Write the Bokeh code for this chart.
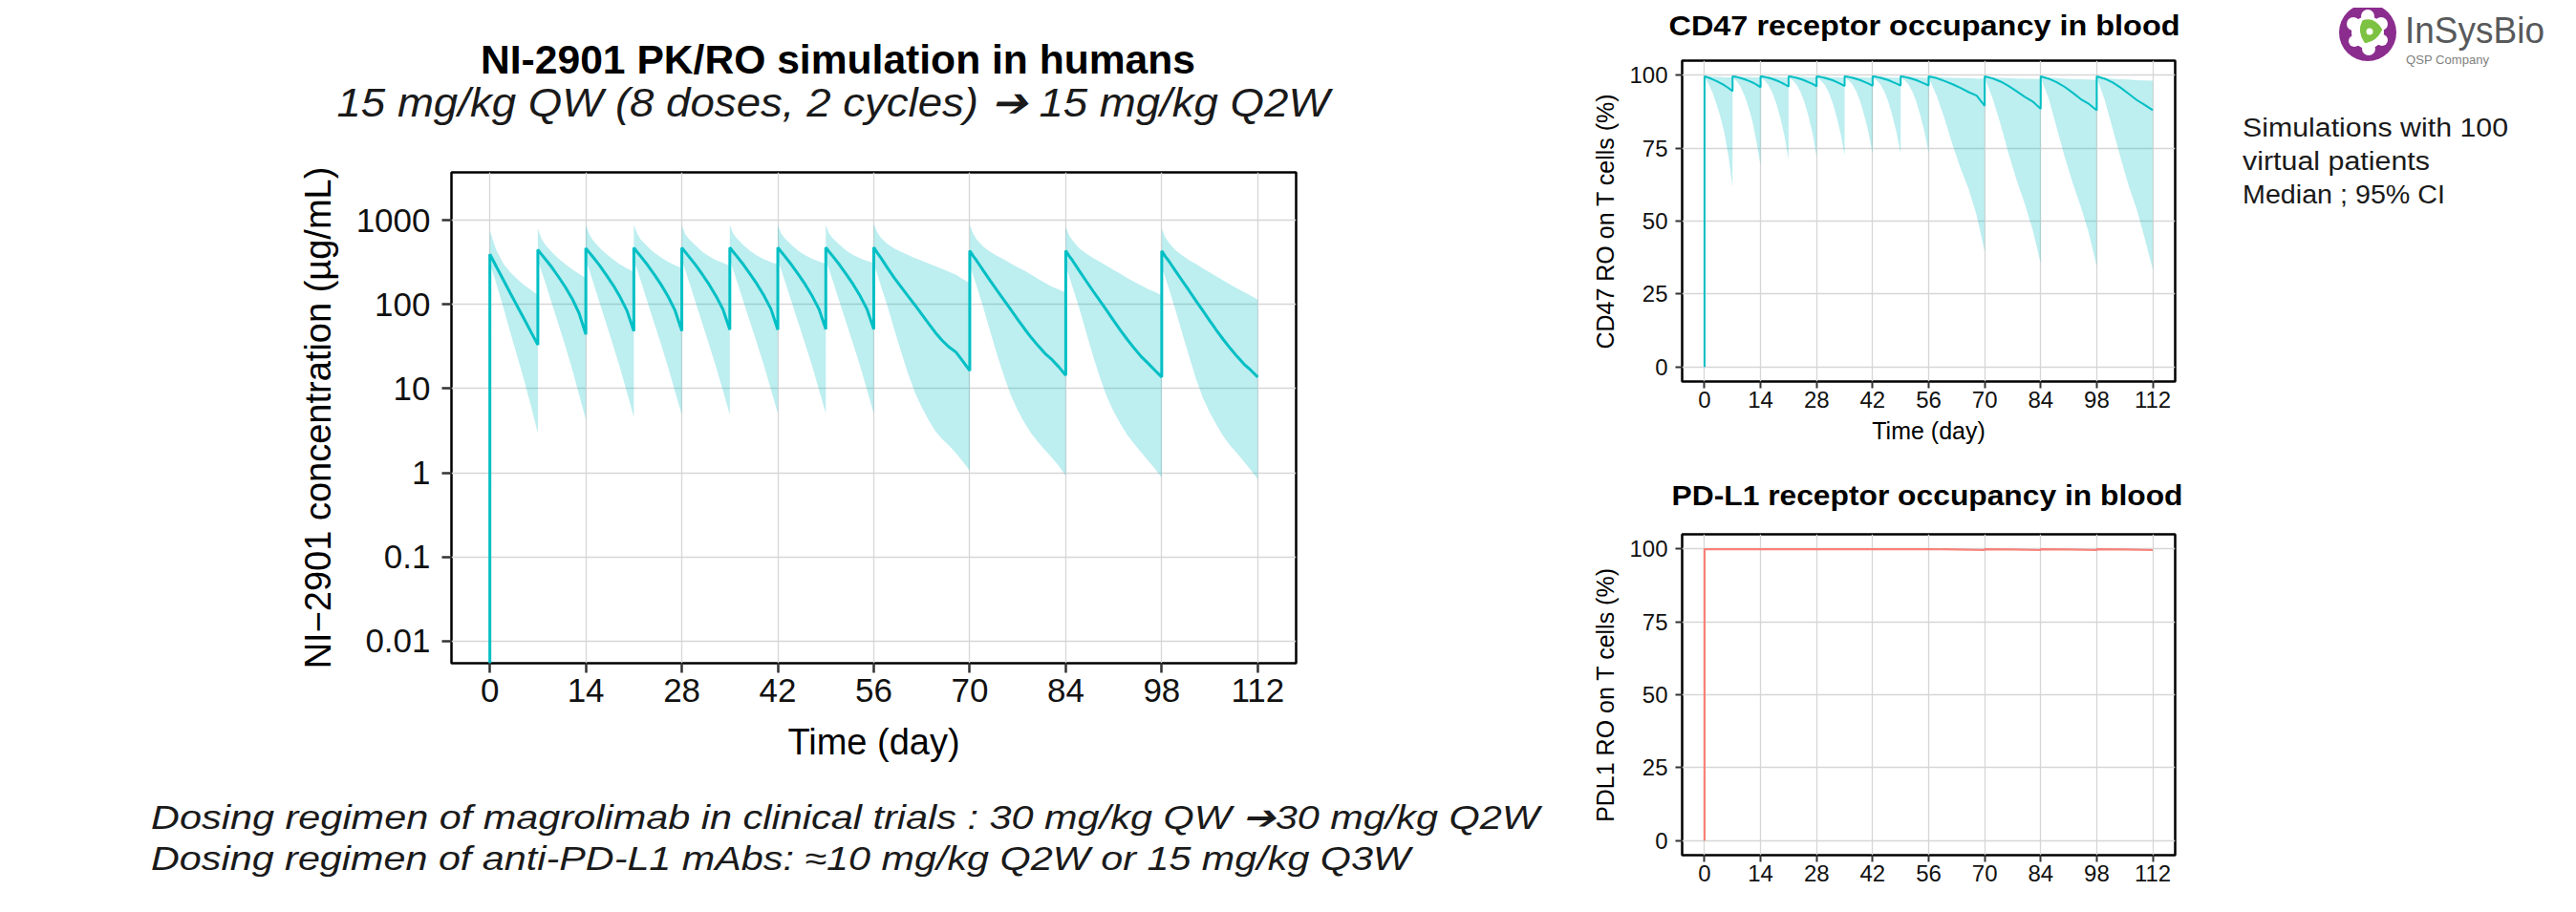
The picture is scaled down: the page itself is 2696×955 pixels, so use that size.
from bokeh.plotting import figure
from bokeh.layouts import row, column
from bokeh.models import Div, FixedTicker, CustomJSTickFormatter, Range1d, Label
from bokeh.embed import file_html
from bokeh.resources import INLINE

# ---------------- data ----------------
day_ticks = [0, 14, 28, 42, 56, 70, 84, 98, 112]
conc_ticks = [0.01, 0.1, 1, 10, 100, 1000]
ro_ticks = [0, 25, 50, 75, 100]

# NI-2901 serum concentration (ug/mL): median and 95% CI
pk_day = [0,
          0, 0.5, 1, 2, 3, 4, 5, 6, 7,
          7, 7.5, 8, 9, 10, 11, 12, 13, 14,
          14, 14.5, 15, 16, 17, 18, 19, 20, 21,
          21, 21.5, 22, 23, 24, 25, 26, 27, 28,
          28, 28.5, 29, 30, 31, 32, 33, 34, 35,
          35, 35.5, 36, 37, 38, 39, 40, 41, 42,
          42, 42.5, 43, 44, 45, 46, 47, 48, 49,
          49, 49.5, 50, 51, 52, 53, 54, 55, 56,
          56, 56.5, 57, 58, 59, 60, 61, 62, 63, 64, 65, 66, 67, 68, 69, 70,
          70, 70.5, 71, 72, 73, 74, 75, 76, 77, 78, 79, 80, 81, 82, 83, 84,
          84, 84.5, 85, 86, 87, 88, 89, 90, 91, 92, 93, 94, 95, 96, 97, 98,
          98, 98.5, 99, 100, 101, 102, 103, 104, 105, 106, 107, 108, 109, 110, 111, 112]
pk_median = [0.001,
             394, 330, 275, 193, 135, 95, 67, 47, 33,
             445, 395, 352, 278, 213, 161, 117, 79, 44,
             465, 413, 368, 290, 222, 168, 122, 84, 48,
             470, 417, 372, 293, 225, 170, 124, 85, 48.5,
             470, 418, 372, 294, 226, 171, 125, 87, 50,
             472, 420, 374, 295, 227, 172, 126, 88, 50,
             472, 420, 374, 295, 227, 172, 126, 88, 50.5,
             472, 420, 374, 295, 227, 172, 126, 88, 50.5,
             474, 410, 360, 270, 205, 160, 125, 98, 76, 59, 46, 37, 31, 27, 21, 16.3,
             433, 375, 330, 250, 190, 145, 112, 86, 66, 51, 40, 32, 26, 22, 18, 14.4,
             433, 375, 330, 248, 188, 143, 110, 84, 64, 49, 38, 30, 24, 20, 16.5, 13.7,
             430, 372, 330, 250, 190, 145, 110, 84, 64, 49, 38, 30, 24, 19.5, 16.5, 13.7]
pk_upper = [0.001,
            757, 560, 430, 300, 240, 200, 170, 148, 129,
            792, 610, 520, 420, 350, 300, 260, 230, 205,
            870, 680, 580, 470, 395, 340, 298, 268, 243,
            880, 690, 590, 485, 410, 360, 320, 292, 270,
            860, 680, 600, 500, 420, 370, 335, 310, 288,
            877, 690, 610, 505, 428, 378, 343, 318, 297,
            870, 690, 610, 508, 432, 382, 348, 323, 303,
            870, 690, 610, 510, 435, 386, 352, 328, 310,
            900, 720, 620, 520, 460, 420, 385, 355, 330, 305, 283, 262, 243, 225, 200, 178,
            870, 690, 590, 480, 420, 375, 340, 305, 275, 250, 225, 200, 180, 162, 150, 138,
            830, 660, 570, 460, 400, 355, 320, 285, 255, 230, 205, 185, 168, 152, 140, 128,
            790, 630, 545, 440, 380, 335, 300, 268, 240, 215, 192, 172, 155, 140, 126, 114]
pk_lower = [0.001,
            300, 230, 170, 90, 46, 24, 12.5, 6.2, 2.95,
            330, 250, 190, 105, 58, 32, 17, 8.5, 4.3,
            330, 255, 190, 105, 58, 32, 17.5, 9, 4.6,
            335, 255, 192, 106, 59, 33, 18, 9.3, 4.9,
            335, 255, 192, 106, 59, 33, 18, 9.5, 4.9,
            335, 255, 192, 107, 60, 33.5, 18.5, 9.7, 5.1,
            335, 255, 192, 107, 60, 33.5, 18.5, 9.7, 5.1,
            335, 255, 192, 107, 60, 33.5, 18.5, 9.7, 5.1,
            300, 230, 170, 95, 50, 27, 15, 9, 6, 4.2, 3.1, 2.5, 2.1, 1.7, 1.35, 1.06,
            290, 220, 165, 90, 47, 25, 14, 8.3, 5.5, 3.9, 2.9, 2.3, 1.85, 1.5, 1.2, 0.92,
            285, 215, 160, 88, 46, 24, 13.5, 8, 5.3, 3.8, 2.8, 2.2, 1.75, 1.4, 1.12, 0.88,
            280, 210, 158, 86, 45, 24, 13, 7.8, 5.2, 3.7, 2.7, 2.1, 1.7, 1.35, 1.08, 0.84]

# CD47 receptor occupancy on T cells (%)
ro_day = [0,
          0, 1, 2, 3, 4, 5, 6, 7,
          7, 8, 9, 10, 11, 12, 13, 14,
          14, 15, 16, 17, 18, 19, 20, 21,
          21, 22, 23, 24, 25, 26, 27, 28,
          28, 29, 30, 31, 32, 33, 34, 35,
          35, 36, 37, 38, 39, 40, 41, 42,
          42, 43, 44, 45, 46, 47, 48, 49,
          49, 50, 51, 52, 53, 54, 55, 56,
          56, 58, 60, 62, 64, 66, 68, 70,
          70, 72, 74, 76, 78, 80, 82, 84,
          84, 86, 88, 90, 92, 94, 96, 98,
          98, 100, 102, 104, 106, 108, 110, 112]
cd47_median = [0,
               99.6, 99.2, 98.6, 98.0, 97.3, 96.5, 95.6, 94.5,
               99.6, 99.4, 99.0, 98.6, 98.1, 97.5, 96.8, 95.9,
               99.6, 99.4, 99.1, 98.7, 98.2, 97.6, 96.9, 96.1,
               99.6, 99.4, 99.1, 98.7, 98.2, 97.6, 97.0, 96.2,
               99.6, 99.4, 99.1, 98.7, 98.3, 97.7, 97.0, 96.3,
               99.6, 99.4, 99.1, 98.7, 98.3, 97.7, 97.1, 96.4,
               99.6, 99.4, 99.1, 98.7, 98.3, 97.7, 97.1, 96.5,
               99.6, 99.4, 99.1, 98.7, 98.3, 97.7, 97.1, 96.5,
               99.6, 99.0, 98.0, 96.9, 95.6, 94.2, 93.0, 89.5,
               99.6, 98.9, 97.8, 96.3, 94.5, 92.6, 91.0, 88.5,
               99.6, 98.8, 97.6, 96.0, 94.0, 91.8, 90.2, 88.0,
               99.6, 98.8, 97.5, 95.7, 93.6, 91.5, 89.8, 88.0]
cd47_upper = [0,
              99.8, 99.6, 99.5, 99.4, 99.4, 99.3, 99.3, 99.3,
              99.8, 99.6, 99.5, 99.4, 99.4, 99.3, 99.3, 99.3,
              99.8, 99.6, 99.5, 99.4, 99.4, 99.3, 99.3, 99.3,
              99.8, 99.6, 99.5, 99.4, 99.4, 99.3, 99.3, 99.3,
              99.8, 99.6, 99.5, 99.4, 99.3, 99.3, 99.2, 99.2,
              99.8, 99.6, 99.5, 99.4, 99.3, 99.3, 99.2, 99.2,
              99.8, 99.6, 99.5, 99.4, 99.3, 99.2, 99.2, 99.1,
              99.8, 99.6, 99.5, 99.4, 99.3, 99.2, 99.1, 99.1,
              99.8, 99.4, 99.2, 99.1, 99.0, 99.0, 98.9, 98.9,
              99.8, 99.3, 99.1, 99.0, 98.9, 98.8, 98.8, 98.7,
              99.8, 99.2, 99.0, 98.8, 98.7, 98.6, 98.5, 98.4,
              99.8, 99.1, 98.8, 98.6, 98.5, 98.3, 98.2, 98.1]
cd47_lower = [0,
              99.3, 97.0, 94.0, 90.0, 85.5, 80.0, 72.0, 61.6,
              99.3, 98.0, 96.0, 93.0, 89.0, 84.0, 77.0, 69.0,
              99.3, 98.2, 96.5, 93.8, 90.0, 85.0, 79.0, 71.0,
              99.3, 98.3, 96.7, 94.2, 90.6, 85.8, 80.0, 72.0,
              99.3, 98.3, 96.7, 94.2, 90.6, 85.8, 80.0, 72.5,
              99.3, 98.3, 96.7, 94.2, 90.6, 85.8, 80.2, 73.0,
              99.3, 98.3, 96.7, 94.2, 90.6, 85.8, 80.2, 73.0,
              99.3, 98.3, 96.7, 94.2, 90.6, 85.8, 80.4, 73.5,
              99.3, 93.0, 85.0, 76.0, 68.0, 61.0, 52.0, 39.5,
              99.3, 92.0, 83.0, 73.0, 64.0, 56.0, 47.0, 35.5,
              99.3, 92.0, 82.0, 72.0, 63.0, 55.0, 46.0, 34.5,
              99.3, 91.5, 81.5, 71.5, 62.0, 54.0, 44.0, 33.5]

# PD-L1 receptor occupancy on T cells (%)
pd_day = [0, 0, 14, 28, 42, 56, 63, 70, 70, 77, 84, 84, 91, 98, 98, 105, 112]
pd_median = [0, 99.9, 99.9, 99.9, 99.9, 99.9, 99.8, 99.6, 99.9, 99.8, 99.6, 99.9, 99.8, 99.6, 99.9, 99.8, 99.6]

TEAL = "#00BFC4"
RED = "#F8766D"
AXFONT = "Liberation Sans"


def style(p, tick_font, label_font, tick_len, y_ticks):
    p.title.visible = False
    p.outline_line_color = "black"
    p.outline_line_width = 2.5
    p.outline_line_alpha = 1
    p.background_fill_color = "white"
    p.border_fill_color = "white"
    p.xaxis.ticker = FixedTicker(ticks=day_ticks)
    p.yaxis.ticker = FixedTicker(ticks=y_ticks)
    for g in (p.xgrid, p.ygrid):
        g.grid_line_color = "#D6D6D6"
        g.grid_line_width = 1.3
        g.minor_grid_line_color = None
    for ax in (p.xaxis, p.yaxis):
        ax.axis_line_color = None
        ax.major_tick_line_color = "#333333"
        ax.major_tick_line_width = 2.5 if tick_len > 8 else 2
        ax.major_tick_in = 0
        ax.major_tick_out = tick_len
        ax.minor_tick_line_color = None
        ax.major_label_text_font = AXFONT
        ax.major_label_text_font_size = f"{tick_font}px"
        ax.major_label_text_color = "#111111"
        ax.axis_label_text_font = AXFONT
        ax.axis_label_text_font_size = f"{label_font}px"
        ax.axis_label_text_font_style = "normal"
        ax.axis_label_text_color = "#000000"


# ---------------- main PK figure ----------------
p = figure(width=1640, height=644, x_range=Range1d(-5.6, 117.6),
           y_range=Range1d(10 ** -2.261, 10 ** 3.567), y_axis_type="log",
           output_backend="svg", toolbar_location=None,
           min_border_left=464, min_border_right=292,
           min_border_top=10, min_border_bottom=120, margin=0)
style(p, 35, 38, 10, conc_ticks)
p.yaxis.formatter = CustomJSTickFormatter(code="return tick.toString();")
p.yaxis.major_label_standoff = 12
p.xaxis.major_label_standoff = 6
p.yaxis.axis_label = "NI\u22122901 concentration (\u00b5g/mL)"
p.xaxis.axis_label = "Time (day)"
p.yaxis.axis_label_standoff = 16
p.xaxis.axis_label_standoff = 18
p.varea(x=pk_day, y1=pk_lower, y2=pk_upper, fill_color=TEAL, fill_alpha=0.26)
p.line(pk_day, pk_median, line_color=TEAL, line_width=3)

# ---------------- CD47 figure ----------------
c = figure(width=660, height=416, x_range=Range1d(-5.6, 117.6), y_range=Range1d(-5, 105),
           output_backend="svg", toolbar_location=None,
           min_border_left=112, min_border_right=32, min_border_top=5,
           min_border_bottom=75, margin=0)
style(c, 24, 25, 7, ro_ticks)
c.xaxis.major_label_standoff = 3
c.yaxis.major_label_standoff = 8
c.xaxis.axis_label = "Time (day)"
c.yaxis.axis_label = "CD47 RO on T cells (%)"
c.xaxis.axis_label_standoff = 7
c.yaxis.axis_label_standoff = 8
c.varea(x=ro_day, y1=cd47_lower, y2=cd47_upper, fill_color=TEAL, fill_alpha=0.26)
c.line(ro_day, cd47_median, line_color=TEAL, line_width=2)

# ---------------- PD-L1 figure ----------------
d = figure(width=660, height=409, x_range=Range1d(-5.6, 117.6), y_range=Range1d(-5, 105),
           output_backend="svg", toolbar_location=None,
           min_border_left=112, min_border_right=32, min_border_top=15,
           min_border_bottom=58, margin=0)
style(d, 24, 25, 7, ro_ticks)
d.xaxis.major_label_standoff = 3
d.yaxis.major_label_standoff = 8
d.yaxis.axis_label = "PDL1 RO on T cells (%)"
d.yaxis.axis_label_standoff = 8
d.line(pd_day, pd_median, line_color=RED, line_width=2.2, line_alpha=0.9)
d.add_layout(Label(x=56, y=-17.5, text="Time (day)", text_align="center", text_baseline="top",
                   text_font=AXFONT, text_font_size="25px", text_color="#000000"))

# ---------------- text blocks ----------------
GOTHIC = "'DejaVu Sans', sans-serif"


def svg_div(w, h, body):
    return Div(text=f'<svg xmlns="http://www.w3.org/2000/svg" width="{w}" height="{h}" '
                    f'style="display:block">{body}</svg>', width=w, height=h, margin=0)


top_div = svg_div(1640, 162,
    f'<text x="869" y="69" text-anchor="middle" textLength="748" lengthAdjust="spacingAndGlyphs" '
    f'font-family="{GOTHIC}" font-weight="bold" font-size="42" fill="#000">NI-2901 PK/RO simulation in humans</text>'
    f'<text x="864" y="114" text-anchor="middle" textLength="1039" lengthAdjust="spacingAndGlyphs" '
    f'font-family="{GOTHIC}" font-style="italic" font-size="42" fill="#1a1a1a">15 mg/kg QW (8 doses, 2 cycles) \u2794 15 mg/kg Q2W</text>')

bottom_div = svg_div(1640, 133,
    f'<text x="150" y="54" textLength="1453" lengthAdjust="spacingAndGlyphs" font-family="{GOTHIC}" '
    f'font-style="italic" font-size="35" fill="#1a1a1a">Dosing regimen of magrolimab in clinical trials :  30 mg/kg QW \u279430 mg/kg Q2W</text>'
    f'<text x="150" y="97" textLength="1318" lengthAdjust="spacingAndGlyphs" font-family="{GOTHIC}" '
    f'font-style="italic" font-size="35" fill="#1a1a1a">Dosing regimen of anti-PD-L1 mAbs: \u224810 mg/kg Q2W or 15 mg/kg Q3W</text>')

TITLEFONT = "Lato, 'Open Sans', sans-serif"
cd47_title = svg_div(660, 50,
    f'<text x="366" y="29" text-anchor="middle" textLength="535" lengthAdjust="spacingAndGlyphs" '
    f'font-family="{TITLEFONT}" font-weight="bold" font-size="30" fill="#000">CD47 receptor occupancy in blood</text>')
pd_title = svg_div(660, 70,
    f'<text x="369" y="55" text-anchor="middle" textLength="535" lengthAdjust="spacingAndGlyphs" '
    f'font-family="{TITLEFONT}" font-weight="bold" font-size="30" fill="#000">PD-L1 receptor occupancy in blood</text>')

logo = (
    '<circle cx="170" cy="26" r="30" fill="#8B2D8E"/>'
    '<g fill="#ffffff">'
    '<circle cx="170" cy="26" r="17"/>'
    '<circle cx="170" cy="9" r="7"/><circle cx="184" cy="17" r="7"/><circle cx="185" cy="34" r="6"/>'
    '<circle cx="171" cy="43" r="7"/><circle cx="156" cy="35" r="6"/><circle cx="155" cy="17" r="7"/>'
    '</g>'
    '<path d="M166,15 Q176,12 183,23 Q178,33 168,35 Q161,25 166,15 Z" fill="#7DC242" stroke="#7DC242" '
    'stroke-width="4" stroke-linejoin="round"/>'
    '<circle cx="172" cy="25" r="3.5" fill="#ffffff"/>'
    f'<text x="209" y="37" textLength="146" lengthAdjust="spacingAndGlyphs" font-family="{GOTHIC}" '
    'font-size="39" fill="#58595B">InSysBio</text>'
    f'<text x="210" y="59" textLength="87" lengthAdjust="spacingAndGlyphs" font-family="{GOTHIC}" '
    'font-size="13" fill="#7F7F7F">QSP Company</text>'
)
note = (
    f'<text x="39" y="135" font-family="{GOTHIC}" font-size="27" fill="#1a1a1a" textLength="278" '
    'lengthAdjust="spacingAndGlyphs">Simulations with 100</text>'
    f'<text x="39" y="170" font-family="{GOTHIC}" font-size="27" fill="#1a1a1a" textLength="196" '
    'lengthAdjust="spacingAndGlyphs">virtual patients</text>'
    f'<text x="39" y="205" font-family="{GOTHIC}" font-size="27" fill="#1a1a1a" textLength="212" '
    'lengthAdjust="spacingAndGlyphs">Median ; 95% CI</text>'
)
right_div = svg_div(380, 939, logo + note)

left_col = column(top_div, p, bottom_div, spacing=0, margin=0)
mid_col = column(cd47_title, c, pd_title, d, spacing=0, margin=0)
layout = row(left_col, mid_col, right_div, spacing=0, margin=(8, 0, 0, 8))

open("out.html", "w").write(file_html(layout, INLINE))
